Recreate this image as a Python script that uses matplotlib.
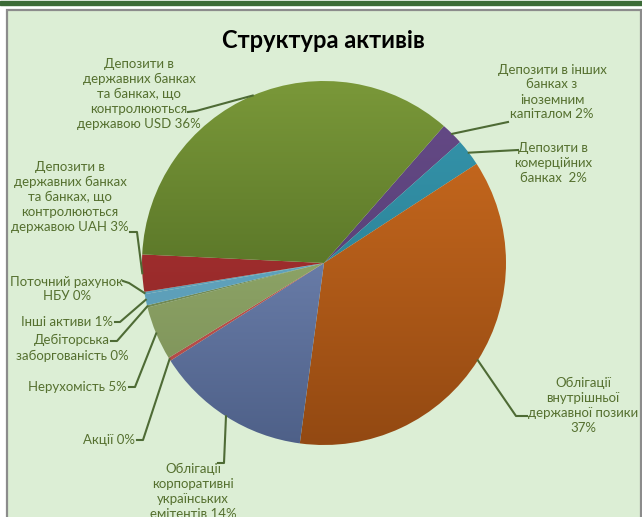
import numpy as np
import matplotlib
matplotlib.use('Agg')
import matplotlib.pyplot as plt
from matplotlib.patches import Rectangle

plt.rcParams['font.family'] = ['Lato', 'Open Sans', 'DejaVu Sans']

W, H = 642, 517

# data (clockwise from the purple slice)
labels = ['Депозити в інших\nбанках з\nіноземним\nкапіталом 2%',
          'Депозити в\nкомерційних\nбанках  2%',
          'Облігації\nвнутрішньої\nдержавної позики\n37%',
          'Облігації\nкорпоративні\nукраїнських\nемітентів 14%',
          'Акції 0%',
          'Нерухомість 5%',
          'Дебіторська\nзаборгованість 0%',
          'Інші активи 1%',
          'Поточний рахунок\nНБУ 0%',
          'Депозити в\nдержавних банках\nта банках, що\nконтролюються\nдержавою UAH 3%',
          'Депозити в\nдержавних банках\nта банках, що\nконтролюються\nдержавою USD 36%']
values = [2.0, 2.4, 36.4, 13.9, 0.3, 4.8, 0.2, 1.0, 0.2, 3.3, 35.8]
top_colors = ['#664B88', '#3596AD', '#D06E20', '#8297C6', '#C65B57', '#A0B977',
              '#7E9A5E', '#6AAFCB', '#6AAFCB', '#B33737', '#7A9839']
bot_colors = ['#4F386B', '#27768A', '#934912', '#4E6088', '#B04744', '#788C54',
              '#6A7F4F', '#5595AD', '#5595AD', '#862222', '#3F5A1A']

# layout in pixels (y from top): text position, alignment, leader points
cx, cy, R = 324, 263, 182
label_pos = [(552, 92, 'center'), (553, 163, 'center'), (583, 405, 'center'),
             (193, 491, 'center'), (135, 440, 'right'), (127, 387, 'right'),
             (72, 348, 'center'), (113, 322, 'right'), (67, 289, 'center'),
             (70, 197, 'center'), (139, 94, 'center')]
leaders = [[(508, 122)], [(518, 150)], [(527, 416), (516, 416)],
           [(218, 463), (224, 463)], [(137, 440), (143, 440)], [(129, 387), (135, 387)],
           [(111, 341), (117, 341)], [(115, 322), (120, 322)], [(123, 281), (129, 283)],
           [(130, 232), (137, 232)], [(188, 112), (196, 111)]]

txt_col = '#55702F'

fig = plt.figure(figsize=(W / 100, H / 100), dpi=100)
fig.patch.set_facecolor('white')
ax = fig.add_axes([0, 0, 1, 1])


def py(y):
    return H - y


# frame
ax.add_patch(Rectangle((0, py(4.5)), W, 3.5, color='#3C6B37', zorder=0))
ax.add_patch(Rectangle((6.5, -5), 634, py(10) + 5, facecolor='#DCEED5',
                       edgecolor='#8C8C8C', linewidth=1.6, zorder=0))

wedges, _ = ax.pie(values, startangle=48.8, counterclock=False,
                   center=(cx, py(cy)), radius=R, frame=True,
                   wedgeprops=dict(linewidth=0, edgecolor='none'))
ax.set_xlim(0, W)
ax.set_ylim(0, H)
ax.set_aspect('equal')
ax.axis('off')

# vertical shading inside each slice
for w, c1, c2 in zip(wedges, top_colors, bot_colors):
    a = np.array(matplotlib.colors.to_rgb(c1))
    b = np.array(matplotlib.colors.to_rgb(c2))
    t = np.linspace(0, 1, 200)[:, None, None]
    grad = a * (1 - t) + b * t
    w.set_alpha(0)
    im = ax.imshow(grad, extent=(cx - R, cx + R, py(cy + R), py(cy - R)),
                   origin='upper', aspect='auto', zorder=2)
    im.set_clip_path(w)

# leader lines to middle of each slice
for w, pts in zip(wedges, leaders):
    ang = np.deg2rad((w.theta1 + w.theta2) / 2)
    ex, ey = cx + R * np.cos(ang), py(cy) + R * np.sin(ang)
    xs = [p[0] for p in pts] + [ex]
    ys = [py(p[1]) for p in pts] + [ey]
    ax.plot(xs, ys, color='#4E6B35', lw=1.5, zorder=3)

for lab, (x, y, ha) in zip(labels, label_pos):
    ax.text(x, py(y), lab, ha=ha, va='center', multialignment='center',
            fontsize=9.5, color=txt_col, linespacing=1.3, zorder=4)

ax.text(323, py(40), 'Структура активів', ha='center', va='center',
        fontsize=17, fontweight='bold', color='black', zorder=4)

fig.savefig('out.png', dpi=100, facecolor=fig.get_facecolor())
